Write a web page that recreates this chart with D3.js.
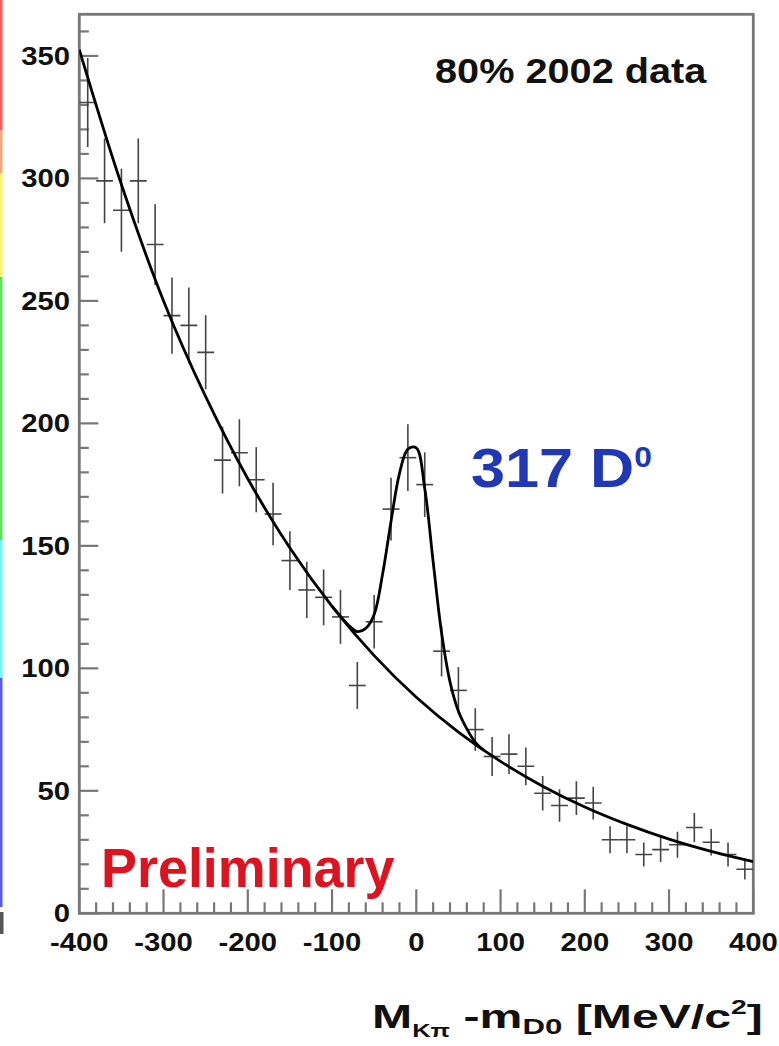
<!DOCTYPE html>
<html>
<head>
<meta charset="utf-8">
<script src="https://cdn.jsdelivr.net/npm/d3@7"></script>
<style>
  html, body { margin: 0; padding: 0; background: #ffffff; }
  svg { display: block; }
  text { font-family: "Liberation Sans", Arial, Helvetica, sans-serif; font-weight: bold; }
</style>
</head>
<body>
<svg id="chart" width="779" height="1046"></svg>
<script>
// Histogram: M(Kpi) - m(D0), 20 MeV/c^2 bins
const binCenters = [-390, -370, -350, -330, -310, -290, -270, -250, -230, -210,
                    -190, -170, -150, -130, -110,  -90,  -70,  -50,  -30,  -10,
                      10,   30,   50,   70,   90,  110,  130,  150,  170,  190,
                     210,  230,  250,  270,  290,  310,  330,  350,  370,  390];
const binWidth = 20;
const counts = [331, 299, 287, 299, 273, 244, 240, 229, 185, 188,
                177, 163, 144, 132, 129, 121,  93, 119, 165, 186,
                175, 107,  91,  75,  64,  65,  60,  49,  44,  47,
                 45,  30,  30,  24,  26,  28,  35,  29,  24,  18];
const countErrors = [18.2, 17.3, 16.9, 17.3, 16.5, 15.6, 15.5, 15.1, 13.6, 13.7,
                     13.3, 12.8, 12.0, 11.5, 11.4, 11.0,  9.6, 10.9, 12.8, 13.6,
                     13.2, 10.3,  9.5,  8.7,  8.0,  8.1,  7.7,  7.0,  6.6,  6.9,
                      6.7,  5.5,  5.5,  4.9,  5.1,  5.3,  5.9,  5.4,  4.9,  4.2];

// Fitted background, sampled
const bgCurveX = [-400, -350, -300, -250, -200, -150, -100, -50, 0, 50, 100, 150, 200, 250, 300, 350, 400];
const bgCurveY = [352.6, 297.5, 250.0, 210.9, 177.4, 149.1, 125.3, 105.2, 88.2, 74.0, 62.0, 51.9, 43.4, 36.3, 30.3, 25.3, 21.1];

// Background + D0 signal, sampled across the peak
const peakCurveX = [-100, -90, -80, -70, -60, -50, -40, -30, -20, -10, 0, 10, 20, 30, 40, 50, 60, 70, 80];
const peakCurveY = [125.4, 121.2, 117.5, 115.0, 116.3, 122.0, 138.5, 160.0, 179.5, 189.5, 190.0, 173.5, 143.5, 114.5, 94.5, 82.5, 75.3, 69.8, 66.6];

const xTickValues = [-400, -300, -200, -100, 0, 100, 200, 300, 400];
const yTickValues = [0, 50, 100, 150, 200, 250, 300, 350];

// Colour strip along the left edge
const stripColors = ["#ff5a5a", "#f3a77a", "#fbf46a", "#5ee05e", "#6ff5f5", "#5a5af0"];
const stripBreaks = [0, 130, 173, 277, 540, 678, 907];

const svg = d3.select("#chart");

const x = d3.scaleLinear().domain([-400, 400]).range([79.3, 753.3]);
const y = d3.scaleLinear().domain([0, 367]).range([913.3, 14.3]);

// left colour strip
svg.append("g").selectAll("rect").data(stripColors).join("rect")
  .attr("x", 0).attr("width", 2.5)
  .attr("y", (d, i) => stripBreaks[i])
  .attr("height", (d, i) => stripBreaks[i + 1] - stripBreaks[i])
  .attr("fill", d => d);
svg.append("rect").attr("x", 0).attr("y", 912).attr("width", 3.5).attr("height", 22).attr("fill", "#555");

svg.append("defs").append("clipPath").attr("id", "plotClip")
  .append("rect")
  .attr("x", x(-400)).attr("y", y(367))
  .attr("width", x(400) - x(-400)).attr("height", y(0) - y(367));

const frameColor = "#777";

// ticks
const yMinor = d3.range(0, 361, 10);
svg.append("g").selectAll("line").data(yMinor).join("line")
  .attr("x1", x(-400)).attr("x2", d => x(-400) + (d % 50 === 0 ? 19 : 9.5))
  .attr("y1", d => y(d)).attr("y2", d => y(d))
  .attr("stroke", frameColor).attr("stroke-width", 2.2);

const xMinor = d3.range(-400, 401, 20);
svg.append("g").selectAll("line").data(xMinor).join("line")
  .attr("x1", d => x(d)).attr("x2", d => x(d))
  .attr("y1", y(0)).attr("y2", d => y(0) - (d % 100 === 0 ? 24 : 11))
  .attr("stroke", frameColor).attr("stroke-width", 2.2);

// frame
svg.append("rect")
  .attr("x", x(-400)).attr("y", y(367))
  .attr("width", x(400) - x(-400)).attr("height", y(0) - y(367))
  .attr("fill", "none").attr("stroke", frameColor).attr("stroke-width", 2.8);

// tick labels
const tickScale = 1.17;
svg.append("g").selectAll("text").data(yTickValues).join("text")
  .attr("transform", d => `translate(70,${y(d) + 9}) scale(${tickScale},1)`)
  .attr("text-anchor", "end").attr("font-size", 25).attr("fill", "#111")
  .text(d => d);

svg.append("g").selectAll("text").data(xTickValues).join("text")
  .attr("transform", d => `translate(${x(d)},951) scale(${tickScale},1)`)
  .attr("text-anchor", "middle").attr("font-size", 25).attr("fill", "#111")
  .text(d => d);

// data points with error bars
const pts = binCenters.map((c, i) => ({ c, n: counts[i], e: countErrors[i] }));
const marks = svg.append("g").attr("clip-path", "url(#plotClip)")
  .attr("stroke", "#444").attr("stroke-width", 1.6);
marks.selectAll("line.h").data(pts).join("line").attr("class", "h")
  .attr("x1", d => x(d.c - binWidth / 2)).attr("x2", d => x(d.c + binWidth / 2))
  .attr("y1", d => y(d.n)).attr("y2", d => y(d.n));
marks.selectAll("line.v").data(pts).join("line").attr("class", "v")
  .attr("x1", d => x(d.c)).attr("x2", d => x(d.c))
  .attr("y1", d => y(d.n - d.e)).attr("y2", d => y(d.n + d.e));

// fit curves
const line = d3.line().x(d => x(d[0])).y(d => y(d[1])).curve(d3.curveCatmullRom.alpha(0.5));
const curves = svg.append("g").attr("clip-path", "url(#plotClip)");
curves.append("path")
  .attr("d", line(bgCurveX.map((v, i) => [v, bgCurveY[i]])))
  .attr("fill", "none").attr("stroke", "#000").attr("stroke-width", 2.8);
curves.append("path")
  .attr("d", line(peakCurveX.map((v, i) => [v, peakCurveY[i]])))
  .attr("fill", "none").attr("stroke", "#000").attr("stroke-width", 2.8);

// stretch a text block horizontally so it spans [left, left+width]
function fitWidth(sel, left, baseline, width) {
  const w = sel.node().getBBox().width;
  sel.attr("transform", `translate(${left},${baseline}) scale(${width / w},1)`);
}

// annotations
const dataLabel = svg.append("text").attr("font-size", 35).attr("fill", "#111").text("80% 2002 data");
fitWidth(dataLabel, 435, 83, 272);

const yieldLabel = svg.append("text").attr("font-size", 56).attr("fill", "#2038b4");
yieldLabel.append("tspan").text("317 D");
yieldLabel.append("tspan").attr("font-size", 29).attr("dy", -20).text("0");
fitWidth(yieldLabel, 471, 487, 181);

const prelim = svg.append("text").attr("font-size", 55).attr("fill", "#dd1420").text("Preliminary");
fitWidth(prelim, 101, 887, 294);

const title = svg.append("text").attr("font-size", 34).attr("fill", "#111");
title.append("tspan").text("M");
title.append("tspan").attr("font-size", 18).attr("dy", 9).text("Kπ");
title.append("tspan").attr("dy", -9).text(" -m");
title.append("tspan").attr("font-size", 22).attr("dy", 6).text("D0");
title.append("tspan").attr("dy", -6).text(" [MeV/c");
title.append("tspan").attr("font-size", 20).attr("dy", -14).text("2");
title.append("tspan").attr("dy", 14).text("]");
fitWidth(title, 372, 1028, 391);
</script>
</body>
</html>
